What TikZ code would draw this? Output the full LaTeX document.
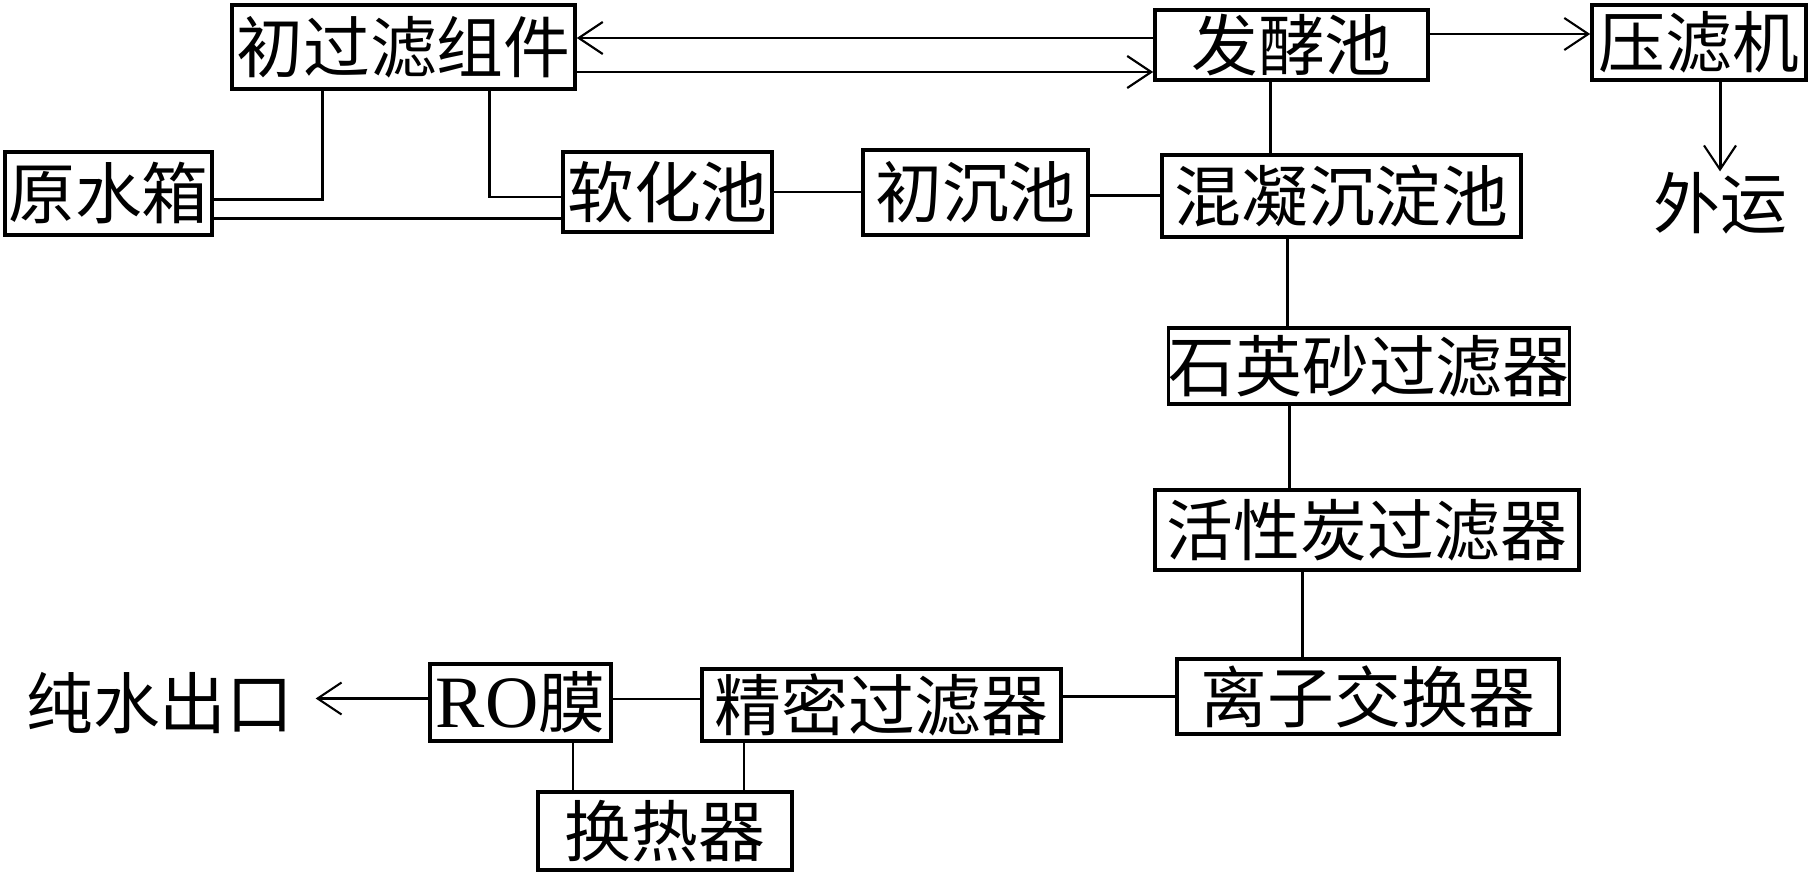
\documentclass[tikz,border=0pt]{standalone}
\usepackage{fontspec}
\setmainfont{Liberation Serif}
\newfontfamily\cjk{Noto Sans CJK SC}
\usetikzlibrary{calc}
\usetikzlibrary{arrows.meta}

\tikzset{
  box/.style={draw, line width=1pt, inner sep=0pt, font=\cjk\fontsize{19}{20}\selectfont},
  freetext/.style={inner sep=0pt, font=\cjk\fontsize{19}{20}\selectfont},
  pipe/.style={line width=.85pt},
  flow/.style={line width=.85pt, -{Straight Barb[length=.24cm, width=.32cm, line width=.6pt]}}
}

\begin{document}
\begin{tikzpicture}[x=0.01cm, y=-0.01cm]
\useasboundingbox (0,0) rectangle (1814,876);
% top row
\node[box, minimum width=3.43cm, minimum height=.84cm] (chu) at (403.5,47) {初过滤组件};
\node[box, minimum width=2.73cm, minimum height=.70cm] (fajiao) at (1291.5,45) {发酵池};
\node[box, minimum width=2.14cm, minimum height=.75cm] (yalv) at (1699,42.5) {压滤机};
\node[freetext] (waiyun) at (1720,203) {外运};
% second row
\node[box, minimum width=2.07cm, minimum height=.83cm] (yuan) at (108.5,193.5) {原水箱};
\node[box, minimum width=2.09cm, minimum height=.80cm] (ruan) at (667.5,192) {软化池};
\node[box, minimum width=2.25cm, minimum height=.85cm] (chuchen) at (975.5,192.5) {初沉池};
\node[box, minimum width=3.59cm, minimum height=.82cm] (hunning) at (1341.5,196) {混凝沉淀池};
% filter column
\node[box, minimum width=4.00cm, minimum height=.76cm] (shiying) at (1369,366) {石英砂过滤器};
\node[box, minimum width=4.24cm, minimum height=.80cm] (huoxing) at (1367,530) {活性炭过滤器};
\node[box, minimum width=3.82cm, minimum height=.75cm] (lizi) at (1368,696.5) {离子交换器};
% bottom row
\node[box, minimum width=3.59cm, minimum height=.72cm] (jingmi) at (881.5,705) {精密过滤器};
\node[box, minimum width=1.81cm, minimum height=.77cm] (ro) at (520.5,702.5) {{\rmfamily\fontsize{21}{20}\selectfont RO}膜};
\node[box, minimum width=2.54cm, minimum height=.78cm] (huanre) at (665,831) {换热器};
\node[freetext, outer xsep=.22cm] (chunshui) at (160,703) {纯水出口};

% fermentation loop
\draw[flow] ($(fajiao.west)+(0,-7)$) coordinate (f1) -- (chu.east |- f1);
\draw[flow] ($(chu.east)+(0,25)$) coordinate (c1) -- (fajiao.west |- c1);
\draw[flow] ($(fajiao.east)+(0,-11)$) coordinate (f2) -- (yalv.west |- f2);
\draw[flow] (yalv.south -| waiyun.north) -- (waiyun.north);
\draw[pipe] ($(fajiao.south)+(-21,0)$) coordinate (f3) -- (f3 |- hunning.north);
% raw water
\draw[pipe] ($(yuan.east)+(0,6)$) -| ($(chu.south)+(-81,0)$);
\draw[pipe] ($(yuan.east)+(0,25)$) coordinate (y1) -- (ruan.west |- y1);
\draw[pipe] ($(ruan.west)+(0,5)$) -| ($(chu.south)+(86,0)$);
\draw[pipe] (ruan.east) -- (chuchen.west |- ruan.east);
\draw[pipe] ($(chuchen.east)+(0,3)$) coordinate (c2) -- (hunning.west |- c2);
% down the filters
\draw[pipe] ($(hunning.south)+(-54,0)$) coordinate (h1) -- (h1 |- shiying.north);
\draw[pipe] ($(shiying.south)+(-80,0)$) coordinate (s1) -- (s1 |- huoxing.north);
\draw[pipe] ($(huoxing.south)+(-65,0)$) coordinate (a1) -- (a1 |- lizi.north);
% back to the left
\draw[pipe] (lizi.west) -- (jingmi.east |- lizi.west);
\draw[pipe] ($(jingmi.west)+(0,-6)$) coordinate (j1) -- (ro.east |- j1);
\draw[flow] ($(ro.west)+(0,-4)$) coordinate (r1) -- (chunshui.east |- r1);
\draw[pipe] ($(ro.south)+(52.5,0)$) coordinate (r2) -- (r2 |- huanre.north);
\draw[pipe] ($(jingmi.south)+(-137.5,0)$) coordinate (j2) -- (j2 |- huanre.north);
\end{tikzpicture}
\end{document}
